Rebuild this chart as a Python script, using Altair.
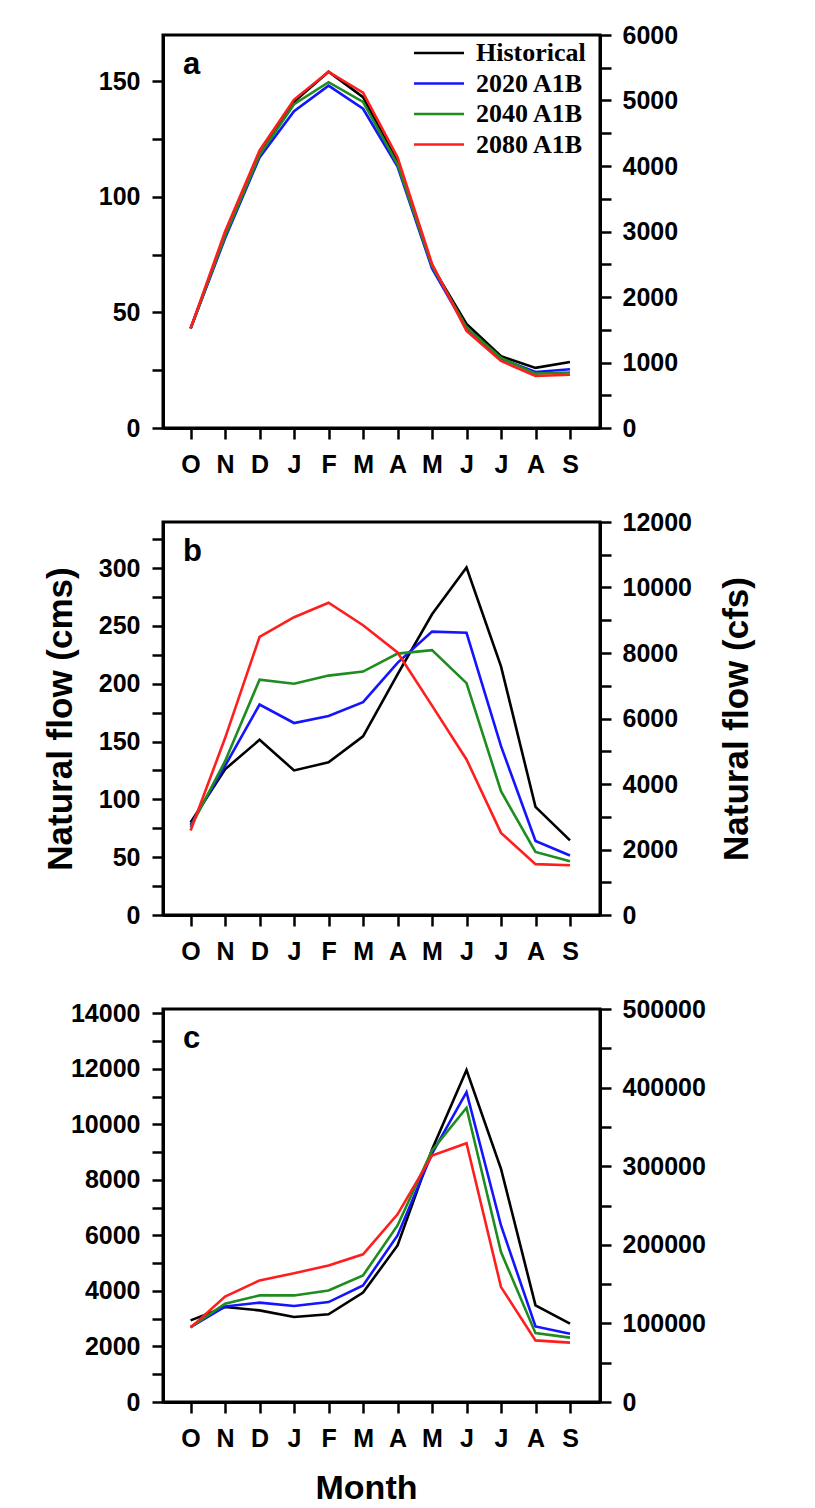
import altair as alt
import pandas as pd

months = ["O", "N", "D", "J", "F", "M", "A", "M", "J", "J", "A", "S"]
series = ["Historical", "2020 A1B", "2040 A1B", "2080 A1B"]
colors = ["#000000", "#1414FF", "#1E8C1E", "#FF1E1E"]

# Panel a (cms)
a_hist = [43, 83, 118, 141, 154, 143, 115, 70, 45, 31, 26, 28.5]
a_2020 = [43, 82, 117, 137, 148, 138, 113, 69, 43, 30, 24.2, 25.4]
a_2040 = [43, 83, 118, 140, 149.5, 141, 114, 70, 43.5, 30.3, 23.5, 24]
a_2080 = [43, 85, 120, 142, 154, 145, 117, 71, 42, 29, 22.5, 23]

# Panel b (cms)
b_hist = [80, 126, 151.5, 125, 132, 154.5, 208, 260, 300.5, 215, 93.5, 64.5]
b_2020 = [78, 129, 182, 166, 172, 184, 218, 245, 244, 146, 64, 51.5]
b_2040 = [76, 133, 203.5, 200, 207, 210.5, 226, 229, 200.5, 107, 54.5, 46.5]
b_2080 = [73, 153, 240.5, 257.5, 270, 250.5, 227, 181, 134.5, 71, 44, 43]

# Panel c (cms)
c_hist = [2940, 3420, 3300, 3060, 3160, 3940, 5640, 9100, 11960, 8400, 3480, 2820]
c_2020 = [2700, 3440, 3580, 3460, 3600, 4200, 6000, 8950, 11160, 6360, 2720, 2460]
c_2040 = [2700, 3540, 3840, 3840, 4020, 4560, 6360, 9060, 10600, 5400, 2480, 2320]
c_2080 = [2680, 3800, 4380, 4640, 4920, 5320, 6760, 8880, 9320, 4140, 2220, 2140]

CFS = 35.3147
FONT = "Liberation Sans"
W, H = 437, 393
month_expr = "['O','N','D','J','F','M','A','M','J','J','A','S'][datum.value]"


def frame(vals):
    rows = []
    for s, v in zip(series, vals):
        for i, y in enumerate(v):
            rows.append({"m": i, "flow": y, "series": s})
    return pd.DataFrame(rows)


def panel(vals, letter, left_max_cfs, left_step, left_lab, right_step, right_lab,
          show_legend=False, left_title=None, right_title=None, x_title=None):
    ldom = left_max_cfs / CFS
    lvals = list(range(0, int(ldom) + 1, left_step))
    rvals = list(range(0, left_max_cfs + 1, right_step))
    df = frame(vals)
    if show_legend:
        legend = alt.Legend(
            orient="none", legendX=263, legendY=5, title=None,
            symbolType="M-5,0H5", symbolSize=100, symbolStrokeWidth=2.6,
            symbolFillColor="transparent",
            labelFont="Liberation Serif", labelFontWeight="bold",
            labelFontSize=26, labelColor="black", labelOffset=24,
            rowPadding=4.5, padding=0,
        )
    else:
        legend = None
    xkw = dict(
        values=list(range(12)), labelExpr=month_expr, grid=False,
        tickSize=11, tickWidth=2.5, tickColor="black",
        domainColor="black", domainWidth=3,
        labelFont=FONT, labelFontWeight="bold", labelFontSize=25,
        labelColor="black", labelPadding=13,
        title=x_title, titleFont=FONT, titleFontWeight="bold",
        titleFontSize=34, titleColor="black", titlePadding=20,
    )
    if x_title:
        xkw.update(titleX=203, titleAlign="center")
    xaxis = alt.Axis(**xkw)
    lines = alt.Chart(df).mark_line(strokeWidth=2.6).encode(
        x=alt.X("m:Q", scale=alt.Scale(domain=[-0.8, 11.87], nice=False, zero=False), axis=xaxis),
        y=alt.Y("flow:Q", scale=alt.Scale(domain=[0, ldom], nice=False),
                axis=alt.Axis(
                    values=lvals, format="d", grid=False,
                    labelExpr=f"datum.value % {left_lab} == 0 ? datum.label : ''",
                    tickSize=11, tickWidth=2.5, tickColor="black",
                    domainColor="black", domainWidth=3,
                    labelFont=FONT, labelFontWeight="bold", labelFontSize=25,
                    labelColor="black", labelPadding=12,
                    title=left_title, titleFont=FONT, titleFontWeight="bold",
                    titleFontSize=35, titleColor="black", titlePadding=20,
                )),
        color=alt.Color("series:N", scale=alt.Scale(domain=series, range=colors),
                        sort=series, legend=legend),
        order=alt.Order("m:Q"),
    )
    right = alt.Chart(pd.DataFrame({"cfs": [0, left_max_cfs]})).mark_point(opacity=0).encode(
        y=alt.Y("cfs:Q", scale=alt.Scale(domain=[0, left_max_cfs], nice=False),
                axis=alt.Axis(
                    orient="right", values=rvals, format="d", grid=False,
                    labelExpr=f"datum.value % {right_lab} == 0 ? datum.label : ''",
                    tickSize=11, tickWidth=2.5, tickColor="black",
                    domainColor="black", domainWidth=3,
                    labelFont=FONT, labelFontWeight="bold", labelFontSize=25,
                    labelColor="black", labelPadding=11,
                    title=right_title, titleFont=FONT, titleFontWeight="bold",
                    titleFontSize=35, titleColor="black", titlePadding=28,
                    titleAngle=270, titleBaseline="top",
                )),
    )
    txt = alt.Chart(pd.DataFrame({"t": [letter]})).mark_text(
        font=FONT, fontWeight="bold", fontSize=31, align="left", baseline="alphabetic", color="black"
    ).encode(x=alt.value(20), y=alt.value(39), text="t:N")
    return alt.layer(lines, right, txt).resolve_scale(y="independent").properties(width=W, height=H)


pa = panel([a_hist, a_2020, a_2040, a_2080], "a", 6000, 25, 50, 500, 1000, show_legend=True)
pb = panel([b_hist, b_2020, b_2040, b_2080], "b", 12000, 25, 50, 1000, 2000,
           left_title="Natural flow (cms)", right_title="Natural flow (cfs)")
pc = panel([c_hist, c_2020, c_2040, c_2080], "c", 500000, 1000, 2000, 50000, 100000,
           x_title="Month")

chart = alt.vconcat(pa, pb, pc, spacing=29).resolve_legend(color="independent").properties(
    padding={"left": 33, "top": 13, "right": 5, "bottom": 5},
    background="white",
).configure_view(stroke="black", strokeWidth=3)

chart.save("out.html", embed_options={"renderer": "svg", "actions": False})
